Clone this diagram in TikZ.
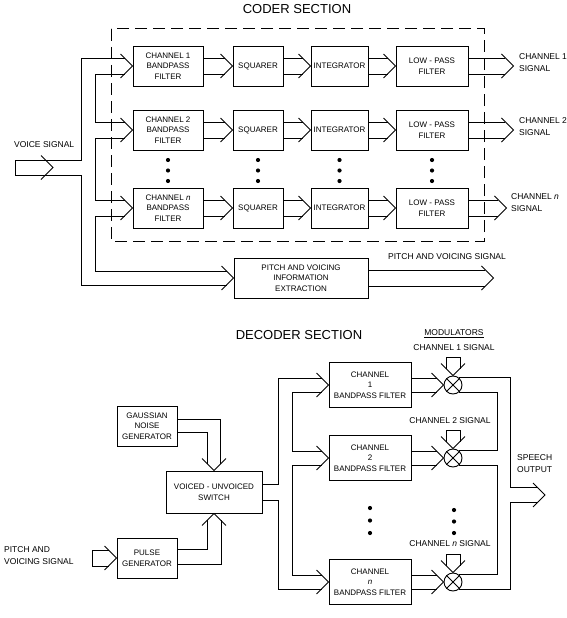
\documentclass[tikz,border=0pt]{standalone}
\usepackage{fontspec}
\setmainfont{Liberation Sans}
\usetikzlibrary{calc}
\newcommand\chevR[1]{\draw[conn] ($(#1)+(-12,-12)$) -- (#1) -- ($(#1)+(-12,12)$);}
\newcommand\chevD[1]{\draw[conn] ($(#1)+(-12,-12)$) -- (#1) -- ($(#1)+(12,-12)$);}
\newcommand\chevU[1]{\draw[conn] ($(#1)+(-12,12)$) -- (#1) -- ($(#1)+(12,12)$);}
% horizontal double arrow from #1 to tip #2, half gap #3
\newcommand\darrow[3]{%
  \draw[conn] ($(#1)+(0,-#3)$) -- ($(#2)+(-#3,-#3)$)
              ($(#1)+(0,#3)$) -- ($(#2)+(-#3,#3)$);
  \chevR{#2}}
\newcommand\modtop[1]{%
  \draw[conn] ($(#1.north)+(-7,-7)$) -- ($(#1.north)+(-7,-18)$) -- ($(#1.north)+(7,-18)$) -- ($(#1.north)+(7,-7)$);
  \chevD{#1.north}}
\begin{document}
\begin{tikzpicture}[x=1pt,y=-1pt,
  conn/.style={line width=0.9pt},
  box/.style={draw,line width=0.9pt,align=center,font=\fontsize{8}{10.5}\selectfont,inner sep=1pt},
  bpf/.style={box,minimum width=70pt,minimum height=40pt},
  sqr/.style={box,minimum width=50pt,minimum height=40pt},
  intg/.style={box,minimum width=57pt,minimum height=40pt},
  lpf/.style={box,minimum width=72pt,minimum height=40pt},
  dbpf/.style={box,minimum width=82pt,minimum height=45pt},
  smallbox/.style={box,minimum width=60pt,minimum height=40pt},
  lbl/.style={align=left,font=\fontsize{8.5}{12}\selectfont,inner sep=0pt},
  clbl/.style={align=center,font=\fontsize{8.5}{12}\selectfont,inner sep=0pt},
  title/.style={font=\fontsize{13}{14}\selectfont,inner sep=0pt},
  bigdot/.style={circle,fill,inner sep=0pt,minimum size=4.2pt},
  modc/.style={draw,circle,line width=0.9pt,minimum size=18pt,inner sep=0pt},
  dashedbox/.style={line width=1pt,dash pattern=on 12pt off 6pt}]
\useasboundingbox (0,0) rectangle (567,618);

% ================= CODER =================
\node[title] (ctitle) at (297,9) {CODER SECTION};
\draw[dashedbox] (111,29) rectangle (484,241);

\node[bpf]  (b1) at (168,66) {CHANNEL 1\\BANDPASS\\FILTER};
\node[sqr]  (s1) at (258,66) {SQUARER};
\node[intg] (i1) at (339.5,66) {INTEGRATOR};
\node[lpf]  (l1) at (432,66) {LOW - PASS\\FILTER};

\node[bpf]  (b2) at (168,130) {CHANNEL 2\\BANDPASS\\FILTER};
\node[sqr]  (s2) at (258,130) {SQUARER};
\node[intg] (i2) at (339.5,130) {INTEGRATOR};
\node[lpf]  (l2) at (432,130) {LOW - PASS\\FILTER};

\node[bpf]  (bn) at (168,208) {CHANNEL \textit{n}\\BANDPASS\\FILTER};
\node[sqr]  (sn) at (258,208) {SQUARER};
\node[intg] (in) at (339.5,208) {INTEGRATOR};
\node[lpf]  (ln) at (432,208) {LOW - PASS\\FILTER};

\node[box,minimum width=134pt,minimum height=40pt] (pitch) at (301,278)
  {PITCH AND VOICING\\INFORMATION\\EXTRACTION};

% row arrows
\darrow{b1.east}{s1.west}{8} \darrow{s1.east}{i1.west}{8} \darrow{i1.east}{l1.west}{8}
\darrow{b2.east}{s2.west}{8} \darrow{s2.east}{i2.west}{8} \darrow{i2.east}{l2.west}{8}
\darrow{bn.east}{sn.west}{8} \darrow{sn.east}{in.west}{8} \darrow{in.east}{ln.west}{8}

% outputs
\coordinate (o1) at ($(l1.east)+(45,0)$);
\coordinate (o2) at ($(l2.east)+(45,0)$);
\coordinate (on) at ($(ln.east)+(38,0)$);
\coordinate (op) at ($(pitch.east)+(125,0)$);
\darrow{l1.east}{o1}{8}
\darrow{l2.east}{o2}{8}
\darrow{ln.east}{on}{8}
\darrow{pitch.east}{op}{8}
\node[lbl,anchor=west] (lo1) at (519,63) {CHANNEL 1\\SIGNAL};
\node[lbl,anchor=west] (lo2) at (519,127) {CHANNEL 2\\SIGNAL};
\node[lbl,anchor=west] (lon) at (511,203) {CHANNEL \textit{n}\\SIGNAL};
\node[lbl,anchor=south] (lop) at (447,260) {PITCH AND VOICING SIGNAL};

% voice input
\coordinate (vtop) at (15,160);
\coordinate (vbot) at (15,175);
\coordinate (vtip) at (53,167.5);
\coordinate (xo) at (81,0);
\node[lbl,anchor=west] (lvoice) at (14,145) {VOICE SIGNAL};

% outer bus line
\draw[conn] ($(b1.west)+(-8,-8)$) -| (xo |- vtop) -- (vtop) -- (vbot)
  -- (xo |- vbot) |- ($(pitch.west)+(-7,7)$);
\chevR{vtip}
% inner bus lines
\draw[conn] ($(b1.west)+(-8,8)$) -- ($(b1.west)+(-37,8)$) -- ($(b2.west)+(-37,-8)$) -- ($(b2.west)+(-8,-8)$);
\draw[conn] ($(b2.west)+(-8,8)$) -- ($(b2.west)+(-37,8)$) -- ($(bn.west)+(-37,-8)$) -- ($(bn.west)+(-8,-8)$);
\draw[conn] ($(bn.west)+(-8,8)$) -- ($(bn.west)+(-37,8)$) -- ($(pitch.west)+(-138,-7)$) -- ($(pitch.west)+(-7,-7)$);
\chevR{b1.west} \chevR{b2.west} \chevR{bn.west} \chevR{pitch.west}

% dots
\foreach \x in {168,258,339.5,432}{
  \foreach \y in {160,170.5,181}{\node[bigdot] at (\x,\y) {};}}

% ================= DECODER =================
\node[title] (dtitle) at (299,335) {DECODER SECTION};

\node[smallbox] (g) at (147,426) {GAUSSIAN\\NOISE\\GENERATOR};
\node[box,minimum width=96pt,minimum height=42pt] (sw) at (214,492) {VOICED - UNVOICED\\SWITCH};
\node[smallbox] (p) at (147,558) {PULSE\\GENERATOR};

\node[dbpf] (d1) at (370,385) {CHANNEL\\1\\BANDPASS FILTER};
\node[dbpf] (d2) at (370,458) {CHANNEL\\2\\BANDPASS FILTER};
\node[dbpf] (dn) at (370,582) {CHANNEL\\\textit{n}\\BANDPASS FILTER};

\node[modc] (m1) at (453,385) {};
\node[modc] (m2) at (453,458) {};
\node[modc] (mn) at (453,582) {};
\foreach \m in {m1,m2,mn}{
  \draw[conn] (\m.45) -- (\m.225) (\m.135) -- (\m.315);
  \modtop{\m}}

% gaussian -> switch
\draw[conn] ($(g.east)+(0,-7)$) -| ($(sw.north)+(6.5,-6.5)$);
\draw[conn] ($(g.east)+(0,6)$) -| ($(sw.north)+(-6.5,-6.5)$);
\chevD{sw.north}
% pulse -> switch
\draw[conn] ($(p.east)+(0,-9)$) -| ($(sw.south)+(-7,7)$);
\draw[conn] ($(p.east)+(0,6)$) -| ($(sw.south)+(7,7)$);
\chevU{sw.south}
% pulse input
\draw[conn] ($(p.west)+(-8,-8)$) -- ($(p.west)+(-24,-8)$) -- ($(p.west)+(-24,8)$) -- ($(p.west)+(-8,8)$);
\chevR{p.west}
\node[lbl,anchor=west] (lpin) at (4,556) {PITCH AND\\VOICING SIGNAL};

% switch -> channel filters
\draw[conn] ($(sw.east)+(0,-8)$) -| ($(d1.west)+(-50,-7)$) -- ($(d1.west)+(-7,-7)$);
\draw[conn] ($(sw.east)+(0,8)$) -| ($(dn.west)+(-50,7)$) -- ($(dn.west)+(-7,7)$);
\draw[conn] ($(d1.west)+(-7,7)$) -- ($(d1.west)+(-36,7)$) -- ($(d2.west)+(-36,-7)$) -- ($(d2.west)+(-7,-7)$);
\draw[conn] ($(d2.west)+(-7,7)$) -- ($(d2.west)+(-36,7)$) -- ($(dn.west)+(-36,-7)$) -- ($(dn.west)+(-7,-7)$);
\chevR{d1.west} \chevR{d2.west} \chevR{dn.west}

% filters -> modulators
\darrow{d1.east}{m1.west}{7}
\darrow{d2.east}{m2.west}{7}
\darrow{dn.east}{mn.west}{7}

% modulators -> speech output
\coordinate (spk) at (545,495);
\coordinate (xi2) at (497,0);
\draw[conn] (m1.50) -| ($(spk)+(-35,-7.5)$) -- ($(spk)+(-7.5,-7.5)$);
\draw[conn] (mn.-50) -| ($(spk)+(-35,7.5)$) -- ($(spk)+(-7.5,7.5)$);
\draw[conn] (m1.-50) -- (m1.-50 -| xi2) -- (m2.50 -| xi2) -- (m2.50);
\draw[conn] (m2.-50) -- (m2.-50 -| xi2) -- (mn.50 -| xi2) -- (mn.50);
\chevR{spk}
\node[lbl,anchor=west] (lspk) at (517,464) {SPEECH\\OUTPUT};

% labels
\node[clbl] (lmod) at (454,334) {\underline{MODULATORS}};
\node[clbl] (lc1) at (454,348) {CHANNEL 1 SIGNAL};
\node[clbl] (lc2) at (450,421) {CHANNEL 2 SIGNAL};
\node[clbl] (lcn) at (450,544) {CHANNEL \textit{n} SIGNAL};

% dots
\foreach \y in {508,520.5,533}{\node[bigdot] at (370,\y) {};}
\foreach \y in {510,521.5,533}{\node[bigdot] at (454,\y) {};}
\end{tikzpicture}
\end{document}
